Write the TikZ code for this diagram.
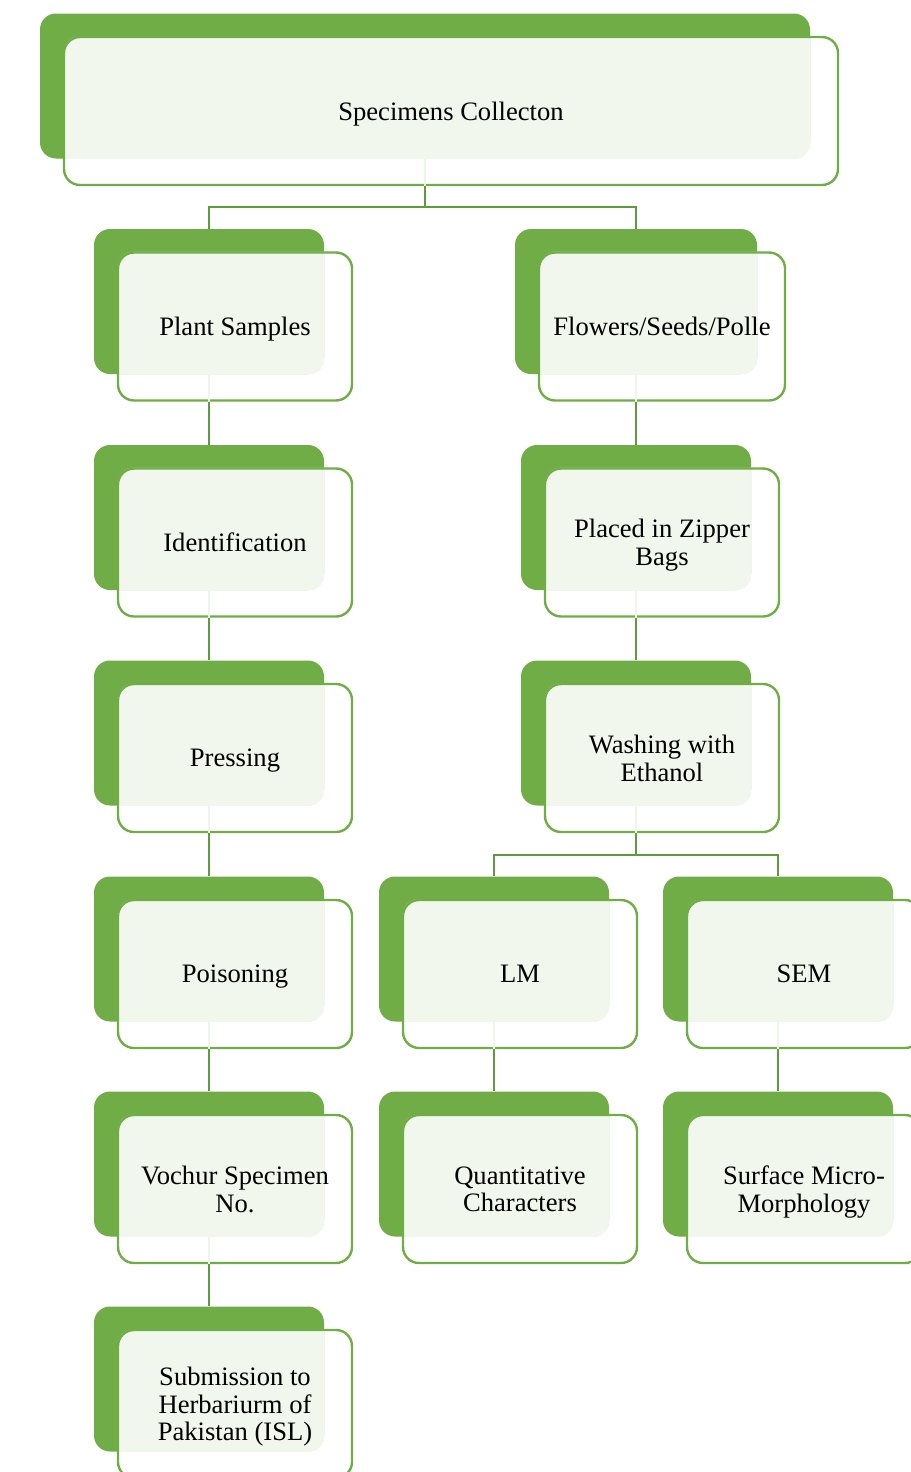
\documentclass[tikz,border=0pt]{standalone}
\usepackage{fontspec}
\setmainfont{Liberation Serif}
\usetikzlibrary{positioning}

\definecolor{leafgreen}{HTML}{70AD47}
\definecolor{stemgreen}{HTML}{5E9A3E}
\colorlet{paleleaf}{leafgreen!10!white}

\tikzset{
  backbox/.style={rectangle, rounded corners=8pt, fill=leafgreen, inner sep=0pt, minimum height=72.5pt},
  frontbox/.style={rectangle, rounded corners=8pt, draw=leafgreen, line width=1.2pt, inner sep=2pt,
    minimum height=74pt, align=center, font=\fontsize{13.3}{13.8}\selectfont, text depth=0pt},
  link/.style={draw=stemgreen, line width=1.1pt},
  faintlink/.style={draw=leafgreen!12, line width=1.1pt}
}

% #1 width (px), #2 name, #3 #4 centre of the green back, #5 text
\newcommand{\specbox}[5][230]{%
  \node[backbox, minimum width=#1*0.5pt] (#2B) at (#3,#4) {};
  \begin{scope}
    \clip[rounded corners=8pt] (#2B.north west) rectangle (#2B.south east);
    \fill[paleleaf, rounded corners=8pt] ([shift={(24,23)}]#2B.north west) rectangle ([shift={(28,26)}]#2B.south east);
  \end{scope}
  \node[frontbox, minimum width=(#1+4)*0.5pt] (#2) at ([shift={(26,25)}]#2B) {#5};
}

\begin{document}
\begin{tikzpicture}[x=0.5pt,y=-0.5pt]
  \useasboundingbox (0,0) rectangle (910,1472);

  % top
  \specbox[770]{top}{425}{86}{Specimens Collecton}

  % left branch
  \specbox{plant}{209}{301.5}{Plant Samples}
  \specbox{ident}{209}{517.5}{Identification}
  \specbox{press}{209}{733}{Pressing}
  \specbox{poison}{209}{949}{Poisoning}
  \specbox{vochur}{209}{1164}{Vochur Specimen\\No.}
  \specbox{submit}{209}{1379}{Submission to\\Herbariurm of\\Pakistan (ISL)}

  % right branch
  \specbox[242]{flower}{636}{301.5}{Flowers/Seeds/Polle}
  \specbox{zipper}{636}{517.5}{Placed in Zipper\\Bags}
  \specbox{wash}{636}{733}{Washing with\\Ethanol}
  \specbox{lm}{494}{949}{LM}
  \specbox{sem}{778}{949}{SEM}
  \specbox{quant}{494}{1164}{Quantitative\\Characters}
  \specbox{surface}{778}{1164}{Surface Micro-\\Morphology}

  % connectors (faint where they run under the front boxes)
  \foreach \f/\b in {top/topB, plant/plantB, ident/identB, press/pressB, poison/poisonB,
      vochur/vochurB, flower/flowerB, zipper/zipperB, wash/washB, lm/lmB, sem/semB}
    \draw[faintlink] (\b.south) -- (\f.south -| \b.south);
  \draw[link] (top.south -| topB.center) -- ++(0,21) -| (plantB.north);
  \draw[link] (top.south -| topB.center) -- ++(0,21) -| (flowerB.north);
  \draw[link] (plant.south -| plantB.center) -- (identB.north);
  \draw[link] (ident.south -| identB.center) -- (pressB.north);
  \draw[link] (press.south -| pressB.center) -- (poisonB.north);
  \draw[link] (poison.south -| poisonB.center) -- (vochurB.north);
  \draw[link] (vochur.south -| vochurB.center) -- (submitB.north);
  \draw[link] (flower.south -| flowerB.center) -- (zipperB.north);
  \draw[link] (zipper.south -| zipperB.center) -- (washB.north);
  \draw[link] (wash.south -| washB.center) -- ++(0,22) -| (lmB.north);
  \draw[link] (wash.south -| washB.center) -- ++(0,22) -| (semB.north);
  \draw[link] (lm.south -| lmB.center) -- (quantB.north);
  \draw[link] (sem.south -| semB.center) -- (surfaceB.north);
\end{tikzpicture}
\end{document}
